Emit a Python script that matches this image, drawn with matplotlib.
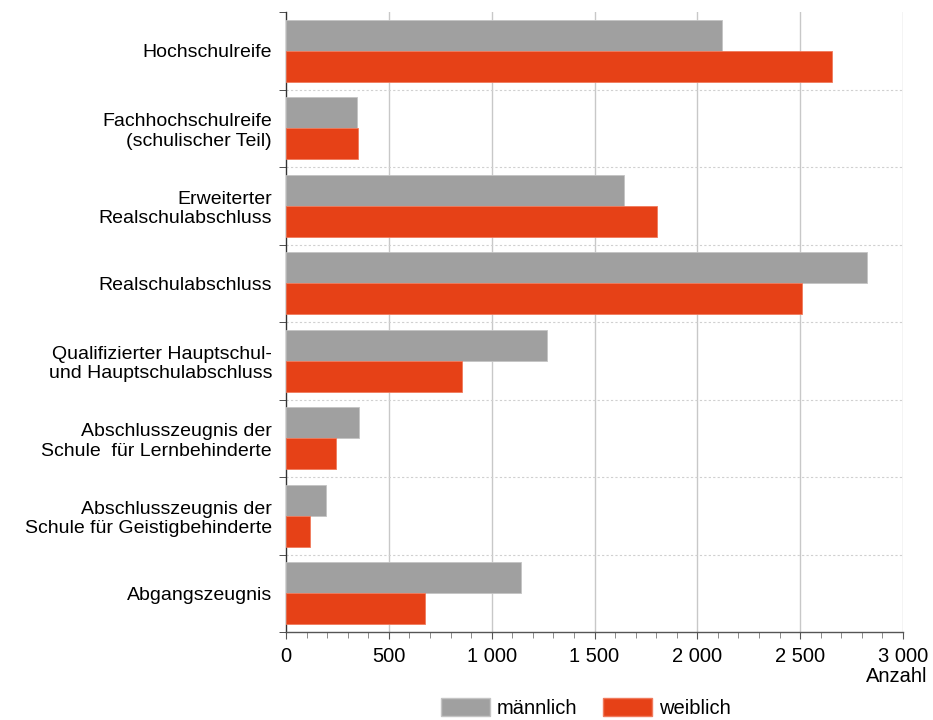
import numpy as np
import matplotlib.pyplot as plt
from matplotlib.patches import Patch
from matplotlib.ticker import MultipleLocator, FuncFormatter

plt.rcParams['font.family'] = ['Liberation Sans', 'DejaVu Sans']

# Daten
kategorien = [
    'Hochschulreife',
    'Fachhochschulreife\n(schulischer Teil)',
    'Erweiterter\nRealschulabschluss',
    'Realschulabschluss',
    'Qualifizierter Hauptschul-\nund Hauptschulabschluss',
    'Abschlusszeugnis der\nSchule  für Lernbehinderte',
    'Abschlusszeugnis der\nSchule für Geistigbehinderte',
    'Abgangszeugnis',
]
maennlich = [2120, 343, 1642, 2827, 1267, 356, 196, 1142]
weiblich = [2654, 351, 1806, 2508, 856, 241, 117, 676]

grau = '#a0a0a0'
rot = '#e64117'

fig = plt.figure(figsize=(9.33, 7.2), dpi=100)
ax = fig.add_axes([286/933, 1 - 632/720, 617/933, 620/720])

y = np.arange(len(kategorien))
h = 0.4
ax.barh(y - h/2, maennlich, height=h, color=grau, edgecolor='#c4c4c4', linewidth=0.6, zorder=3)
ax.barh(y + h/2, weiblich, height=h, color=rot, edgecolor='#f07a5c', linewidth=0.6, zorder=3)

ax.set_xlim(0, 3000)
ax.set_ylim(len(kategorien) - 0.5, -0.5)

# Gitter
for xv in range(500, 3001, 500):
    ax.axvline(xv, color='#c8c8c8', lw=1.0, zorder=1)
for sep in np.arange(0.5, len(kategorien) - 0.5, 1):
    ax.axhline(sep, color='#d0d0d0', lw=0.8, ls=(0, (2, 2)), zorder=1)

# Achsen
for s in ['top', 'right']:
    ax.spines[s].set_visible(False)
ax.spines['left'].set_color('#333333')
ax.spines['bottom'].set_color('#555555')
ax.spines['left'].set_linewidth(1.0)
ax.spines['bottom'].set_linewidth(1.0)

ax.set_yticks(y)
ax.set_yticklabels(kategorien, fontsize=14, ha='right', multialignment='right',
                   linespacing=1.2)
ax.tick_params(axis='y', which='major', length=0, pad=10)
ax.set_yticks(np.arange(-0.5, len(kategorien)), minor=True)
ax.tick_params(axis='y', which='minor', length=5, color='#333333')

ax.xaxis.set_major_locator(MultipleLocator(500))
ax.xaxis.set_minor_locator(MultipleLocator(100))
ax.xaxis.set_major_formatter(FuncFormatter(lambda v, p: f'{int(v):,}'.replace(',', ' ')))
ax.tick_params(axis='x', which='major', length=5, color='#555555', labelsize=14.5, pad=6)
ax.tick_params(axis='x', which='minor', length=4, color='#777777')

fig.text(927/933, 1 - 677/720, 'Anzahl', ha='right', va='center', fontsize=14.5)

handles = [Patch(facecolor=grau, edgecolor='#c4c4c4', label='männlich'),
           Patch(facecolor=rot, edgecolor='#f07a5c', label='weiblich')]
fig.legend(handles=handles, loc='center', bbox_to_anchor=(586/933, 1 - 708/720),
           ncol=2, frameon=False, fontsize=14.5, handlelength=2.4, handleheight=1.0,
           columnspacing=1.3, handletextpad=0.35)

fig.savefig('out.png', dpi=100)
